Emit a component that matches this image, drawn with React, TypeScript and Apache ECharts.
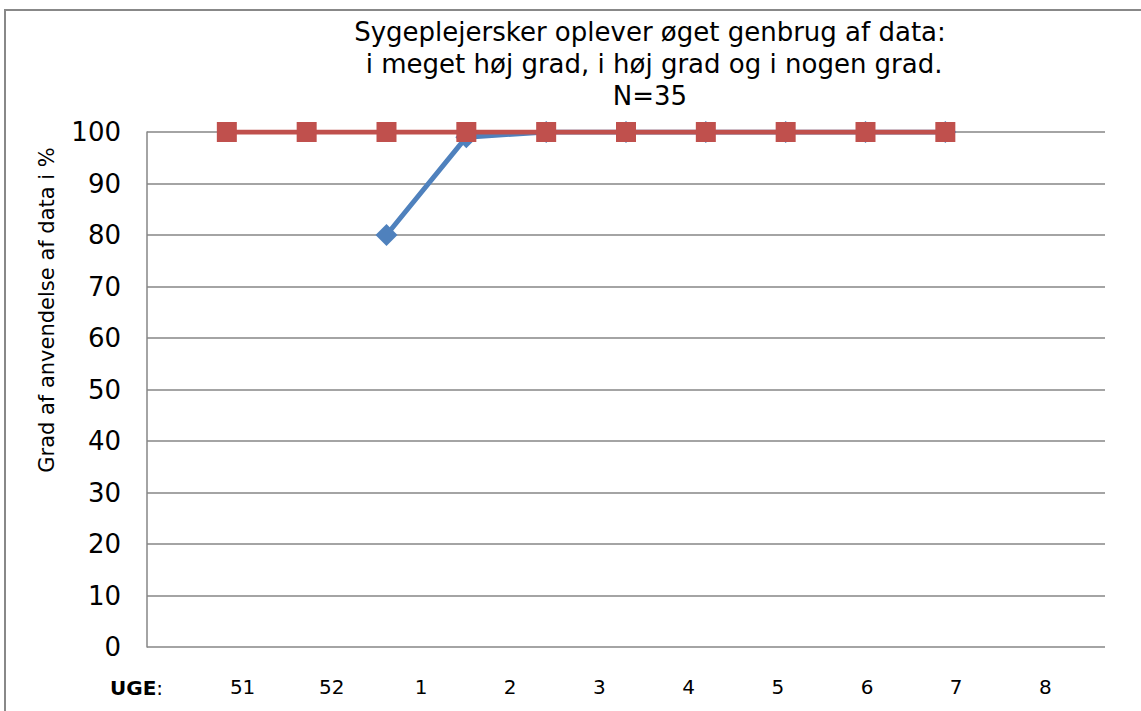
import React, { useEffect, useRef } from "react";
import * as echarts from "echarts";

const positions = ["", "p1", "p2", "p3", "p4", "p5", "p6", "p7", "p8", "p9", "p10", "p11", ""];
const weekLabels = ["51", "52", "1", "2", "3", "4", "5", "6", "7", "8"];
const blueValues: (number | null)[] = [null, null, null, 80, 99, 100, 100, 100, 100, 100, 100, null, null];
const redValues: (number | null)[] = [null, 100, 100, 100, 100, 100, 100, 100, 100, 100, 100, null, null];
const yTicks = { min: 0, max: 100, interval: 10 };
const titleLines = [
  "Sygeplejersker oplever øget genbrug af data:",
  " i meget høj grad, i høj grad og i nogen grad.",
  "N=35",
];
const yName = "Grad af anvendelse af data i %";

const FONT = "Verdana, 'DejaVu Sans', sans-serif";

export default function App() {
  const ref = useRef<HTMLDivElement>(null);
  useEffect(() => {
    if (!ref.current) return;
    const chart = echarts.init(ref.current, null, { renderer: "svg" });
    chart.setOption({
      animation: false,
      backgroundColor: "#fff",
      textStyle: { fontFamily: FONT },
      grid: [
        { left: 147, right: 36, top: 132, bottom: 64 },
        { left: 198, right: 51, top: 132, bottom: 64 },
      ],
      xAxis: [
        {
          type: "category",
          gridIndex: 0,
          data: positions,
          boundaryGap: false,
          axisLine: { show: false },
          axisTick: { show: false },
          axisLabel: { show: false },
          splitLine: { show: false },
        },
        {
          type: "category",
          gridIndex: 1,
          data: weekLabels,
          boundaryGap: true,
          axisLine: { show: false },
          axisTick: { show: false },
          axisLabel: { show: true, fontSize: 20, color: "#000", margin: 30, fontFamily: FONT },
          splitLine: { show: false },
        },
      ],
      yAxis: [
        {
          type: "value",
          gridIndex: 0,
          min: yTicks.min,
          max: yTicks.max,
          interval: yTicks.interval,
          axisLine: { show: true, lineStyle: { color: "#868686", width: 1.5 } },
          axisTick: { show: false },
          axisLabel: { fontSize: 26, color: "#000", margin: 26, fontFamily: FONT },
          splitLine: { show: true, lineStyle: { color: "#868686", width: 1.5 } },
        },
        {
          type: "value",
          gridIndex: 1,
          min: 0,
          max: 100,
          show: false,
        },
      ],
      series: [
        {
          type: "line",
          name: "blue",
          xAxisIndex: 0,
          yAxisIndex: 0,
          data: blueValues,
          symbol: "diamond",
          symbolSize: 22,
          showAllSymbol: true,
          lineStyle: { color: "#4F81BD", width: 5 },
          itemStyle: { color: "#4F81BD" },
          connectNulls: false,
          z: 2,
        },
        {
          type: "line",
          name: "red",
          xAxisIndex: 0,
          yAxisIndex: 0,
          data: redValues,
          symbol: "rect",
          symbolSize: 20,
          showAllSymbol: true,
          lineStyle: { color: "#C0504D", width: 5 },
          itemStyle: { color: "#C0504D" },
          z: 3,
        },
      ],
      graphic: [
        {
          type: "rect",
          shape: { x: 5, y: 10, width: 1200, height: 800 },
          style: { fill: "none", stroke: "#888", lineWidth: 2 },
          silent: true,
        },
        {
          type: "text",
          x: 650,
          y: 16,
          style: {
            text: titleLines.join("\n"),
            fontSize: 26,
            lineHeight: 32,
            fontFamily: FONT,
            fill: "#000",
            align: "center",
          },
        },
        {
          type: "text",
          x: 47,
          y: 310,
          rotation: Math.PI / 2,
          style: {
            text: yName,
            fontSize: 21,
            fontFamily: FONT,
            fill: "#000",
            align: "center",
            verticalAlign: "middle",
          },
        },
        {
          type: "text",
          x: 110,
          y: 688,
          style: {
            text: "{b|UGE}:",
            rich: { b: { fontWeight: "bold", fontSize: 20, fontFamily: FONT } },
            fontSize: 20,
            fontFamily: FONT,
            fill: "#000",
            verticalAlign: "middle",
          },
        },
      ],
    });
    return () => chart.dispose();
  }, []);
  return (
    <div
      ref={ref}
      style={{ position: "fixed", left: 0, top: 0, width: 1141, height: 711 }}
    />
  );
}
